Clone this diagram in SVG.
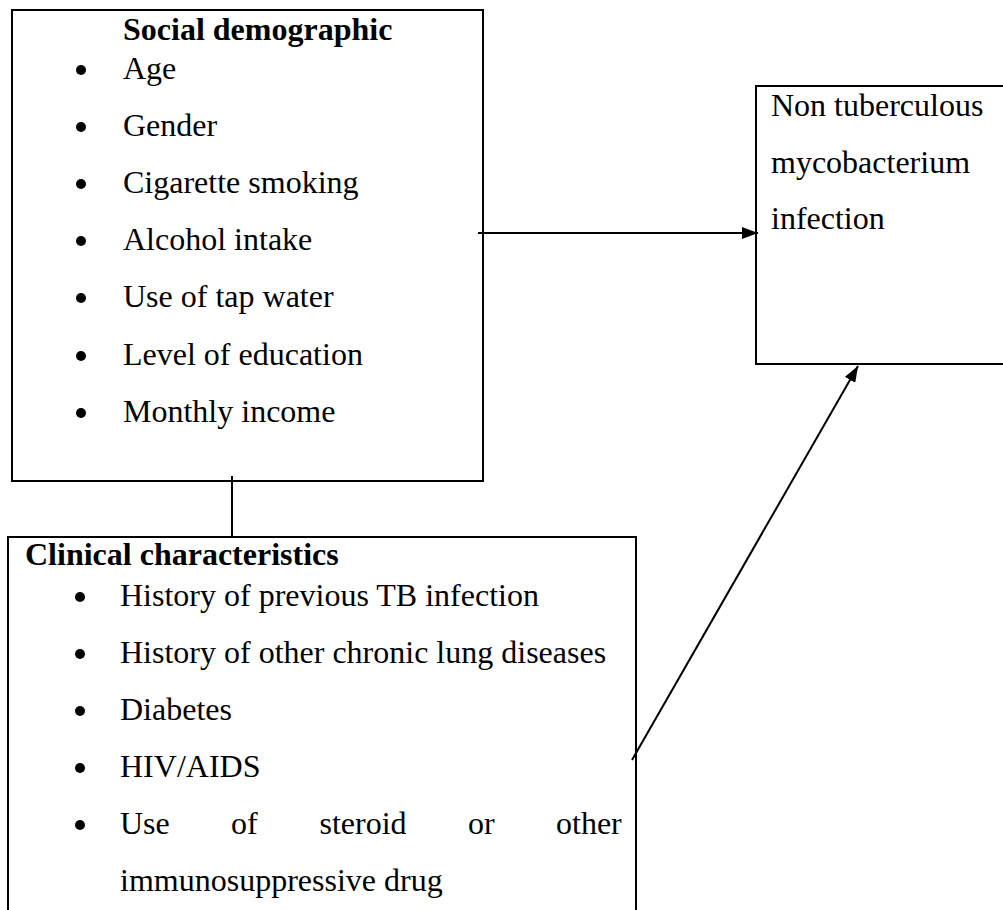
<svg xmlns="http://www.w3.org/2000/svg" width="1003" height="910" viewBox="0 0 1003 910">
<style>
.box{fill:none;stroke:#000;stroke-width:2}
.b{font-weight:bold}
.conn{fill:none;stroke:#000;stroke-width:2}
</style>
<defs>
<marker id="arr" viewBox="0 0 16 12" refX="16" refY="6" markerWidth="16" markerHeight="12" markerUnits="userSpaceOnUse" orient="auto">
<path d="M0,0 L16,6 L0,12 z" fill="#000"/>
</marker>
</defs>
<rect width="1003" height="910" fill="#fff"/>
<g font-family="'Times New Roman', 'Liberation Serif', Tinos, 'DejaVu Serif', serif" font-size="32" fill="#000">
<g id="social">
<rect class="box" x="12" y="10" width="471" height="471"/>
<text class="b" x="123" y="40">Social demographic</text>
<g>
<circle cx="81" cy="70" r="5"/><circle cx="81" cy="127" r="5"/><circle cx="81" cy="184" r="5"/><circle cx="81" cy="241" r="5"/><circle cx="81" cy="298" r="5"/><circle cx="81" cy="356" r="5"/><circle cx="81" cy="413" r="5"/>
</g>
<text x="123" y="79">Age</text>
<text x="123" y="136">Gender</text>
<text x="123" y="193">Cigarette smoking</text>
<text x="123" y="250">Alcohol intake</text>
<text x="123" y="307">Use of tap water</text>
<text x="123" y="365">Level of education</text>
<text x="123" y="422">Monthly income</text>
</g>
<g id="outcome">
<path class="box" d="M1010,86 H756 V364 H1010"/>
<text x="771" y="116">Non tuberculous</text>
<text x="771" y="173">mycobacterium</text>
<text x="771" y="229">infection</text>
</g>
<g id="clinical">
<path class="box" d="M8,920 V537 H636 V920"/>
<text class="b" x="25" y="565">Clinical characteristics</text>
<g>
<circle cx="80" cy="597" r="5"/><circle cx="80" cy="654" r="5"/><circle cx="80" cy="711" r="5"/><circle cx="80" cy="768" r="5"/><circle cx="80" cy="825" r="5"/>
</g>
<text x="120" y="606">History of previous TB infection</text>
<text x="120" y="663">History of other chronic lung diseases</text>
<text x="120" y="720">Diabetes</text>
<text x="120" y="777">HIV/AIDS</text>
<text x="120" y="834">Use</text>
<text x="231" y="834">of</text>
<text x="319.5" y="834">steroid</text>
<text x="468" y="834">or</text>
<text x="556" y="834">other</text>
<text x="120" y="891">immunosuppressive drug</text>
</g>
</g>
<g id="connectors">
<line class="conn" x1="478" y1="233" x2="758" y2="233" marker-end="url(#arr)"/>
<line class="conn" x1="632" y1="760" x2="858" y2="366" marker-end="url(#arr)"/>
<line class="conn" x1="232" y1="476" x2="232" y2="537" stroke-width="1.5"/>
</g>
</svg>
